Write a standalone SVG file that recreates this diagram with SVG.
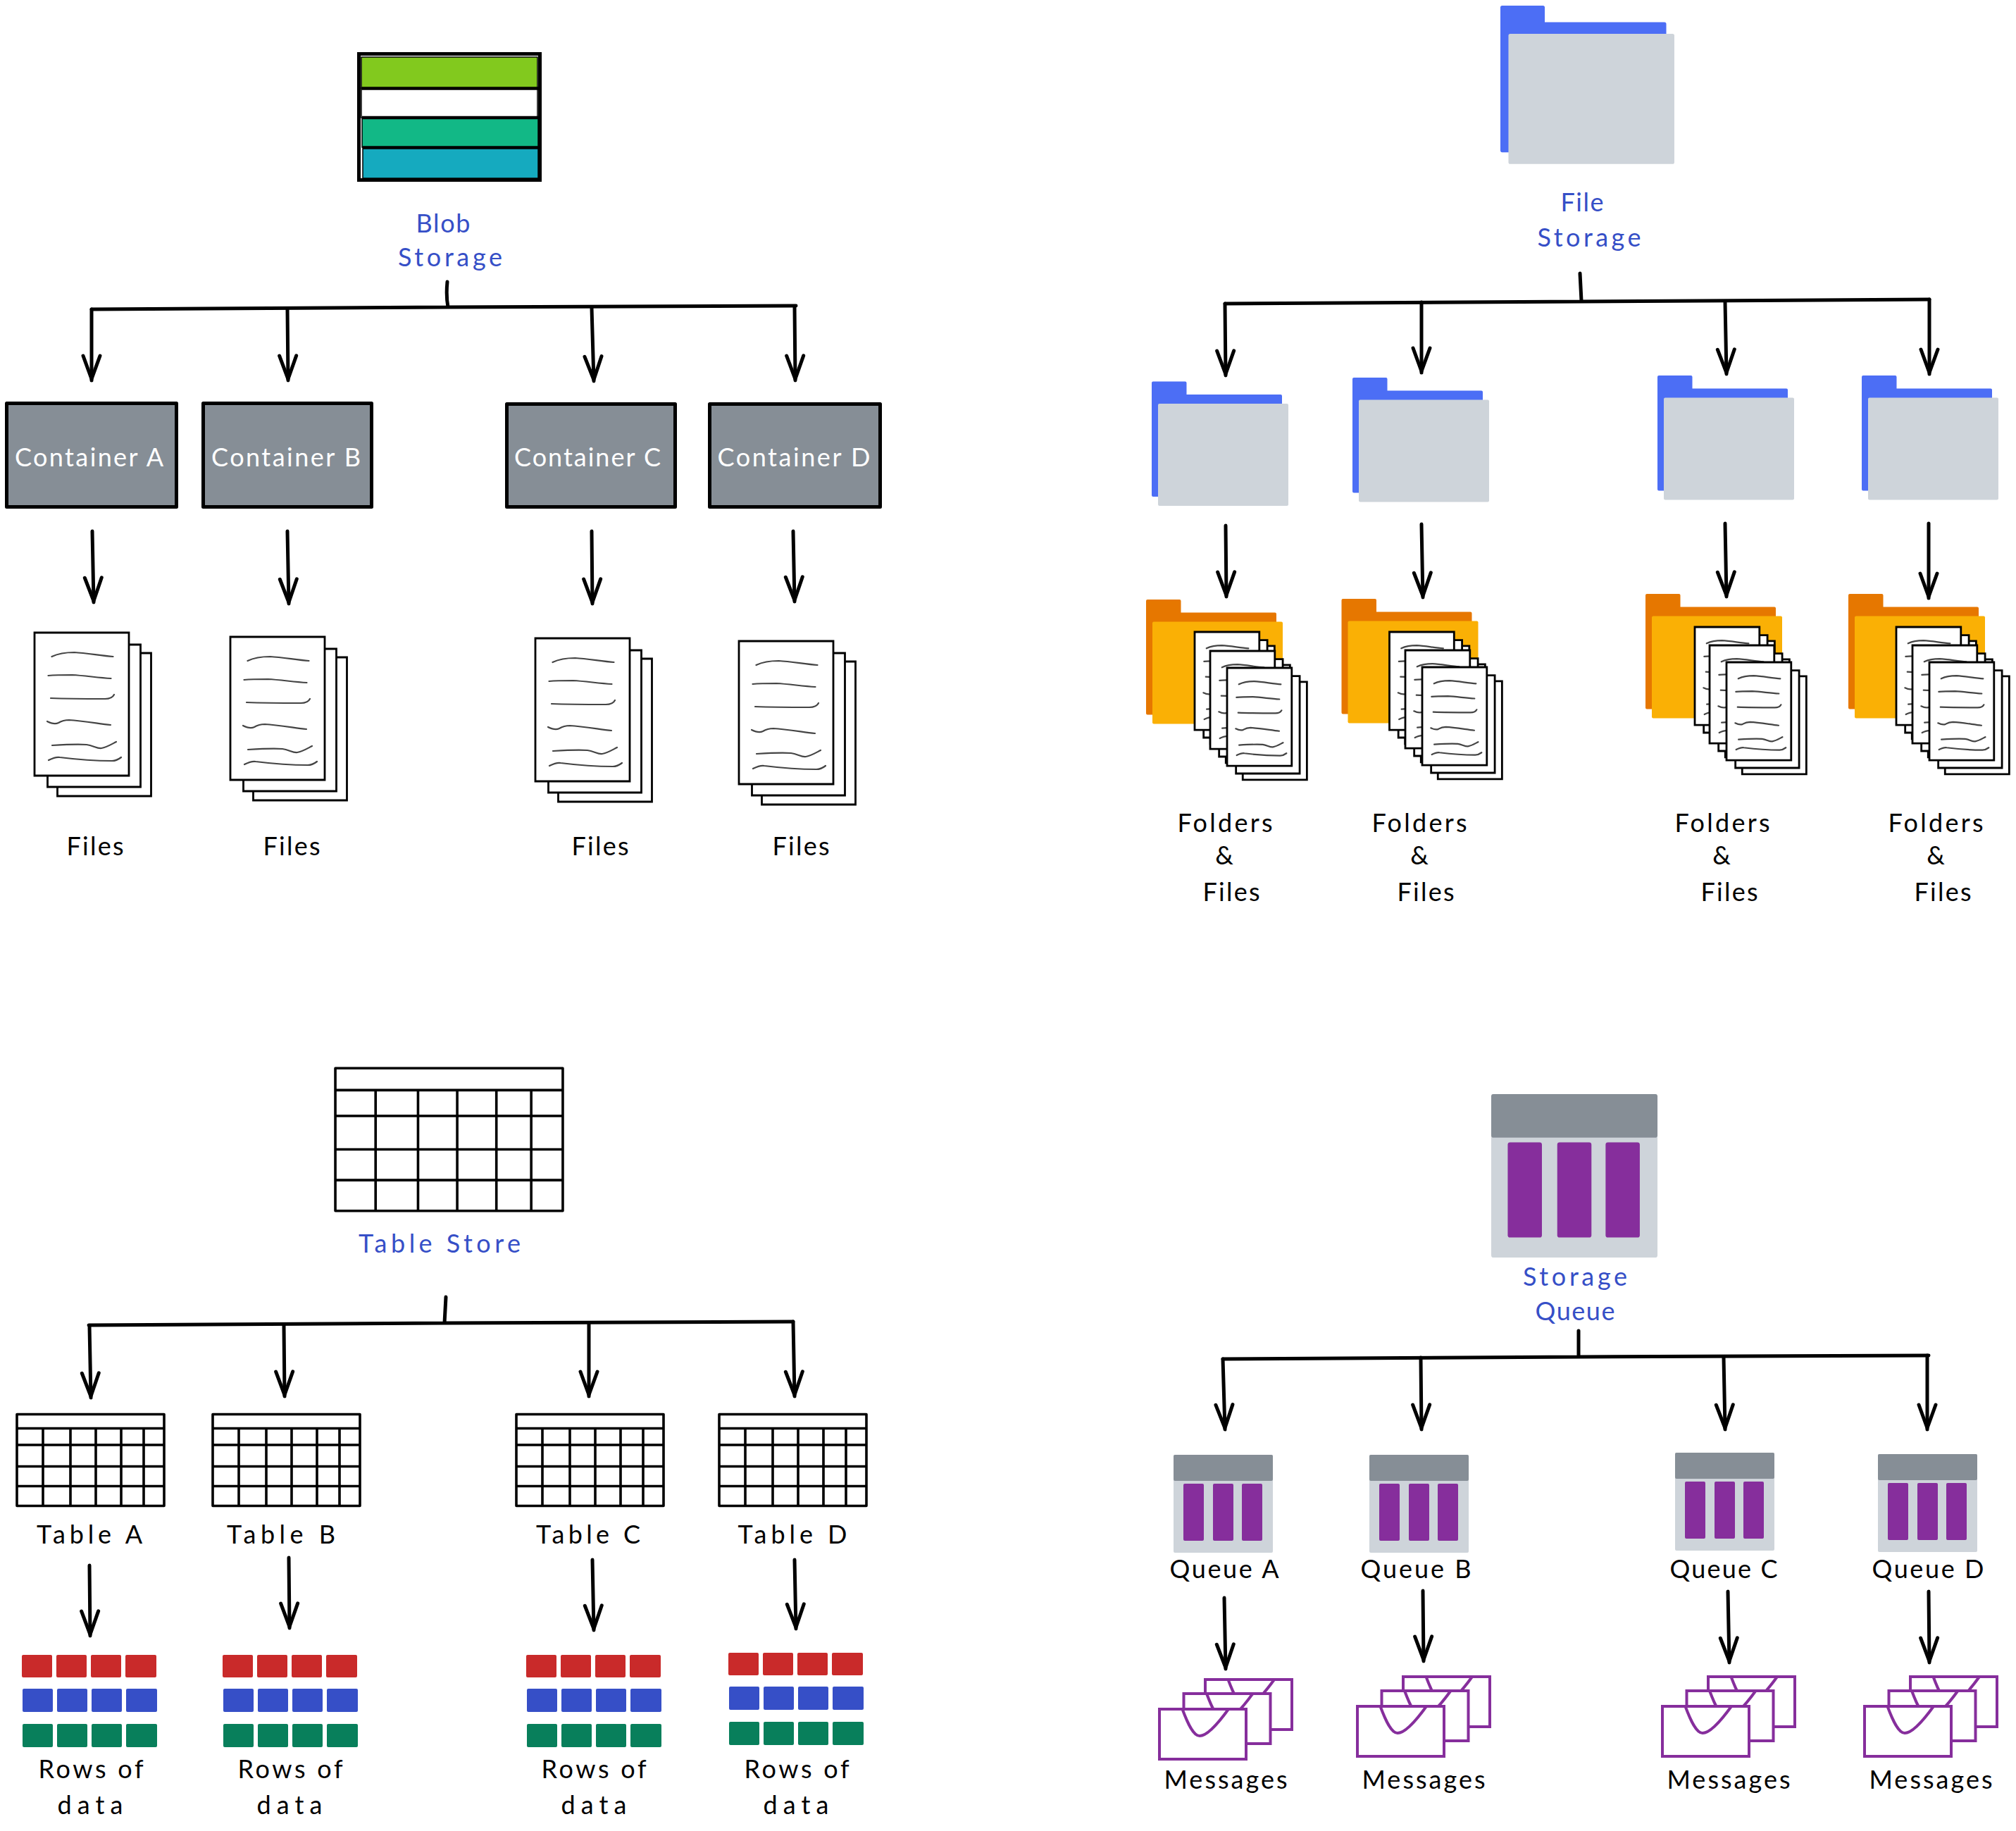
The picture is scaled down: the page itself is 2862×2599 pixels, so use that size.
<svg xmlns="http://www.w3.org/2000/svg" xmlns:xlink="http://www.w3.org/1999/xlink" width="2862" height="2599" viewBox="0 0 2862 2599">
<style>
text{font-family:"Lato","Liberation Sans",sans-serif;font-size:36px;text-anchor:middle;fill:#000}
text.b{fill:#364fc7}
text.w{fill:#fff}
.line{fill:none;stroke:#000;stroke-width:5;stroke-linecap:round;stroke-linejoin:round}
.arrow{marker-end:url(#head)}
.box{fill:#868e96;stroke:#000;stroke-width:5;stroke-linejoin:round}
.page{fill:#fff;stroke:#000;stroke-width:2.8;vector-effect:non-scaling-stroke}
.scr{fill:none;stroke:#444;stroke-width:2.2;stroke-linecap:round;vector-effect:non-scaling-stroke}
.grid{fill:none;stroke:#000;stroke-width:3.6;stroke-linejoin:round;vector-effect:non-scaling-stroke}
.env{fill:#fff;stroke:#862e9c;stroke-width:4}
.flap{fill:none;stroke:#862e9c;stroke-width:4}
.red{fill:#c92a2a}.blu{fill:#364fc7}.grn{fill:#087f5b}
.hdr{fill:#868e96}.bod{fill:#ced4da}.pur{fill:#862e9c}
.bar{stroke:#000;stroke-width:1.5}
</style>
<defs>
<marker id="head" markerUnits="userSpaceOnUse" markerWidth="44" markerHeight="34" refX="40" refY="17" orient="auto" overflow="visible"><path d="M5 5L38 17L5 29" fill="none" stroke="#000" stroke-width="5" stroke-linecap="round" stroke-linejoin="round"/></marker>
<g id="files">
<rect class="page" x="32.5" y="29" width="133" height="203"/>
<rect class="page" x="18.5" y="17" width="132" height="202"/>
<rect class="page" x="0" y="0" width="134" height="203"/>
<path class="scr" d="M24.5 34C35 29 46 28 56.5 28C75 29 95 33 111.5 34"/>
<path class="scr" d="M19.5 61C30 60 42 60 53.5 60C72 61 90 64 108.5 65"/>
<path class="scr" d="M23 93C50 94 75 94 100 94C106 94 111 92 113 88"/>
<path class="scr" d="M18 126C24 129 30 130 34 128C39 125 43 124 49 124C68 125 90 129 108 131"/>
<path class="scr" d="M25 160C42 159 60 158 74 159C83 160 89 165 95 164C102 163 110 158 116 155"/>
<path class="scr" d="M20 181C26 178 31 176 36 177C60 180 85 182 110 182C115 182 119 180 123 177"/>
</g>
<path id="fback" d="M2 0H47.5a2 2 0 0 1 2 2V18.5H183a2 2 0 0 1 2 2V161.5a2 2 0 0 1-2 2H2a2 2 0 0 1-2-2V2a2 2 0 0 1 2-2z"/>
<rect id="ffront" x="9" y="31.5" width="185" height="145" rx="2"/>
<g id="table">
<rect class="grid" x="1" y="0.5" width="209" height="130"/>
<path class="grid" d="M1 20.5H210M1 44H210M1 74.5H210M1 102.5H210M38 20.5V130.5M77 20.5V130.5M113 20.5V130.5M149 20.5V130.5M181 20.5V130.5"/>
</g>
<g id="rows">
<g class="red"><rect x="0" y="0" width="43" height="32" rx="2"/><rect x="49" y="0" width="43" height="32" rx="2"/><rect x="98" y="0" width="43" height="32" rx="2"/><rect x="147" y="0" width="44" height="32" rx="2"/></g>
<g class="blu"><rect x="1" y="48" width="43" height="33" rx="2"/><rect x="50" y="48" width="43" height="33" rx="2"/><rect x="99" y="48" width="43" height="33" rx="2"/><rect x="148" y="48" width="44" height="33" rx="2"/></g>
<g class="grn"><rect x="1" y="98" width="43" height="33" rx="2"/><rect x="50" y="98" width="43" height="33" rx="2"/><rect x="99" y="98" width="43" height="33" rx="2"/><rect x="148" y="98" width="44" height="33" rx="2"/></g>
</g>
<g id="queue">
<rect class="bod" x="0" y="0" width="141" height="139" rx="2"/>
<rect class="hdr" x="0" y="0" width="141" height="37" rx="2"/>
<rect class="pur" x="14" y="41" width="29" height="81" rx="2"/>
<rect class="pur" x="56" y="41" width="29" height="81" rx="2"/>
<rect class="pur" x="97" y="41" width="29" height="81" rx="2"/>
</g>
<g id="env">
<rect class="env" x="0" y="0" width="123" height="71"/>
<path class="flap" d="M32.5 0C40 20 48 38 57 38C68 38 85 18 98 0"/>
</g>
<g id="msgs">
<use href="#env" x="65" y="-42"/>
<use href="#env" x="34.5" y="-22"/>
<use href="#env" x="0" y="0"/>
</g>
</defs>
<rect x="0" y="0" width="2862" height="2599" fill="#fff"/>

<g id="connectors">
<path class="line" d="M635 400Q633 420 636 436M130 439L635 436L1130 434"/>
<path class="line arrow" d="M130 439L130 540"/>
<path class="line arrow" d="M408 438L409 540"/>
<path class="line arrow" d="M840 437L843 541"/>
<path class="line arrow" d="M1128 435L1129 540"/>
<path class="line arrow" d="M131 754L133 855"/>
<path class="line arrow" d="M408 754L410 857"/>
<path class="line arrow" d="M840 754L841 857"/>
<path class="line arrow" d="M1126 754L1128 854"/>

<path class="line" d="M2243 388L2245 427M1739 431L2245 428L2739 425"/>
<path class="line arrow" d="M1739 431L1740 533"/>
<path class="line arrow" d="M2018 429L2018 529"/>
<path class="line arrow" d="M2449 428L2451 531"/>
<path class="line arrow" d="M2739 425L2739 531"/>
<path class="line arrow" d="M1740 746L1741 847"/>
<path class="line arrow" d="M2018 744L2020 848"/>
<path class="line arrow" d="M2449 743L2451 847"/>
<path class="line arrow" d="M2738 743L2738 849"/>

<path class="line" d="M633 1841L631 1878M126 1881L631 1878L1126 1876"/>
<path class="line arrow" d="M127 1882L129 1984"/>
<path class="line arrow" d="M403 1881L404 1982"/>
<path class="line arrow" d="M836 1880L836 1982"/>
<path class="line arrow" d="M1126 1876L1128 1982"/>
<path class="line arrow" d="M127 2222L128 2322"/>
<path class="line arrow" d="M410 2211L411 2311"/>
<path class="line arrow" d="M841 2214L843 2314"/>
<path class="line arrow" d="M1128 2214L1130 2312"/>

<path class="line" d="M2241 1889L2241 1926M1736 1929L2241 1926L2738 1924"/>
<path class="line arrow" d="M1736 1929L1739 2029"/>
<path class="line arrow" d="M2017 1927L2018 2029"/>
<path class="line arrow" d="M2447 1927L2449 2029"/>
<path class="line arrow" d="M2736 1924L2736 2029"/>
<path class="line arrow" d="M1738 2268L1740 2369"/>
<path class="line arrow" d="M2020 2258L2021 2358"/>
<path class="line arrow" d="M2453 2259L2455 2360"/>
<path class="line arrow" d="M2738 2259L2739 2360"/>
</g>

<g id="blob-storage">
<rect x="509.5" y="76.5" width="257" height="179" fill="#fff" stroke="#000" stroke-width="5"/>
<rect class="bar" x="513" y="81" width="250" height="44" fill="#82c91e"/>
<rect class="bar" x="513" y="125" width="250" height="42" fill="#fff"/>
<rect class="bar" x="514" y="167" width="250" height="42" fill="#12b886"/>
<rect class="bar" x="515" y="209" width="249" height="44" fill="#15aabf"/>
<path d="M513 125.500H764M514 167H764M515 209.500H764" stroke="#000" stroke-width="4.500" fill="none"/>
<text class="b" x="629" y="330" textLength="77">Blob</text>
<text class="b" x="639" y="378" textLength="148">Storage</text>
</g>
<g id="container-a"><rect class="box" x="9.5" y="572.500" width="241" height="147"/><text class="w" x="126.500" y="662" textLength="211">Container A</text></g>
<g id="container-b"><rect class="box" x="288.500" y="572.500" width="239" height="147"/><text class="w" x="406" y="662" textLength="212">Container B</text></g>
<g id="container-c"><rect class="box" x="719.500" y="573.500" width="239" height="146"/><text class="w" x="834" y="662" textLength="208">Container C</text></g>
<g id="container-d"><rect class="box" x="1007.500" y="573.500" width="242" height="146"/><text class="w" x="1127" y="662" textLength="217">Container D</text></g>
<g id="files-a"><use href="#files" x="49" y="898"/><text x="135" y="1214" textLength="81">Files</text></g>
<g id="files-b"><use href="#files" x="327" y="904"/><text x="414" y="1214" textLength="81">Files</text></g>
<g id="files-c"><use href="#files" x="760" y="906"/><text x="852" y="1214" textLength="81">Files</text></g>
<g id="files-d"><use href="#files" x="1049" y="910"/><text x="1137" y="1214" textLength="81">Files</text></g>

<g id="file-storage">
<g transform="translate(2130 8) scale(1.273)"><use href="#fback" fill="#4c6ef5"/><use href="#ffront" fill="#ced4da"/></g>
<text class="b" x="2246" y="300" textLength="61">File</text>
<text class="b" x="2256" y="350" textLength="147">Storage</text>
</g>
<g id="folder-a" transform="translate(1635 541.500)"><use href="#fback" fill="#4c6ef5"/><use href="#ffront" fill="#ced4da"/></g>
<g id="folder-b" transform="translate(1920 536)"><use href="#fback" fill="#4c6ef5"/><use href="#ffront" fill="#ced4da"/></g>
<g id="folder-c" transform="translate(2353 533)"><use href="#fback" fill="#4c6ef5"/><use href="#ffront" fill="#ced4da"/></g>
<g id="folder-d" transform="translate(2643 533)"><use href="#fback" fill="#4c6ef5"/><use href="#ffront" fill="#ced4da"/></g>

<g id="folders-files-a">
<g transform="translate(1627 851)"><use href="#fback" fill="#e67700"/><use href="#ffront" fill="#fab005"/>
<use href="#files" transform="translate(69 46) scale(.685)"/><use href="#files" transform="translate(91 73) scale(.685)"/><use href="#files" transform="translate(115 97) scale(.685)"/></g>
<text x="1739" y="1181" textLength="135">Folders</text><text x="1738" y="1227">&amp;</text><text x="1748" y="1279" textLength="81">Files</text>
</g>
<g id="folders-files-b">
<g transform="translate(1904.500 850)"><use href="#fback" fill="#e67700"/><use href="#ffront" fill="#fab005"/>
<use href="#files" transform="translate(68 47) scale(.685)"/><use href="#files" transform="translate(90.500 73) scale(.685)"/><use href="#files" transform="translate(114.500 97) scale(.685)"/></g>
<text x="2015" y="1181" textLength="135">Folders</text><text x="2015" y="1227">&amp;</text><text x="2024" y="1279" textLength="81">Files</text>
</g>
<g id="folders-files-c">
<g transform="translate(2336 843)"><use href="#fback" fill="#e67700"/><use href="#ffront" fill="#fab005"/>
<use href="#files" transform="translate(70 47) scale(.685)"/><use href="#files" transform="translate(91 73) scale(.685)"/><use href="#files" transform="translate(115 97) scale(.685)"/></g>
<text x="2445" y="1181" textLength="135">Folders</text><text x="2444" y="1227">&amp;</text><text x="2455" y="1279" textLength="81">Files</text>
</g>
<g id="folders-files-d">
<g transform="translate(2624 843)"><use href="#fback" fill="#e67700"/><use href="#ffront" fill="#fab005"/>
<use href="#files" transform="translate(68 47) scale(.685)"/><use href="#files" transform="translate(91 73) scale(.685)"/><use href="#files" transform="translate(115 97) scale(.685)"/></g>
<text x="2748" y="1181" textLength="135">Folders</text><text x="2748" y="1227">&amp;</text><text x="2758" y="1279" textLength="81">Files</text>
</g>

<g id="table-store">
<use href="#table" transform="translate(474.500 1515.500) scale(1.545 1.557)"/>
<text class="b" x="624" y="1778" textLength="230">Table Store</text>
</g>
<g id="table-a"><use href="#table" x="23" y="2007"/><text x="127" y="2191" textLength="150">Table A</text></g>
<g id="table-b"><use href="#table" x="301" y="2007"/><text x="399" y="2191" textLength="154">Table B</text></g>
<g id="table-c"><use href="#table" x="732" y="2007"/><text x="835" y="2191" textLength="148">Table C</text></g>
<g id="table-d"><use href="#table" x="1020" y="2007"/><text x="1125" y="2191" textLength="155">Table D</text></g>
<g id="rows-a"><use href="#rows" x="31" y="2349"/><text x="129" y="2524" textLength="149">Rows of</text><text x="128" y="2575" textLength="93">data</text></g>
<g id="rows-b"><use href="#rows" x="316" y="2349"/><text x="412" y="2524" textLength="149">Rows of</text><text x="411" y="2575" textLength="93">data</text></g>
<g id="rows-c"><use href="#rows" x="747" y="2349"/><text x="843" y="2524" textLength="149">Rows of</text><text x="843" y="2575" textLength="93">data</text></g>
<g id="rows-d"><use href="#rows" x="1034" y="2346"/><text x="1131" y="2524" textLength="149">Rows of</text><text x="1130" y="2575" textLength="93">data</text></g>

<g id="storage-queue">
<use href="#queue" transform="translate(2117 1553) scale(1.674 1.669)"/>
<text class="b" x="2236" y="1825" textLength="148">Storage</text>
<text class="b" x="2236" y="1874" textLength="113">Queue</text>
</g>
<g id="queue-a"><use href="#queue" x="1666" y="2065"/><text x="1738" y="2240" textLength="155">Queue A</text></g>
<g id="queue-b"><use href="#queue" x="1944" y="2065"/><text x="2010" y="2240" textLength="157">Queue B</text></g>
<g id="queue-c"><use href="#queue" x="2378" y="2062"/><text x="2447" y="2240" textLength="153">Queue C</text></g>
<g id="queue-d"><use href="#queue" x="2666" y="2064"/><text x="2737" y="2240" textLength="159">Queue D</text></g>
<g id="messages-a"><use href="#msgs" x="1646" y="2426"/><text x="1740" y="2539" textLength="175">Messages</text></g>
<g id="messages-b"><use href="#msgs" x="1927" y="2422"/><text x="2021" y="2539" textLength="175">Messages</text></g>
<g id="messages-c"><use href="#msgs" x="2360" y="2422"/><text x="2454" y="2539" textLength="175">Messages</text></g>
<g id="messages-d"><use href="#msgs" x="2647" y="2422"/><text x="2741" y="2539" textLength="175">Messages</text></g>
</svg>
